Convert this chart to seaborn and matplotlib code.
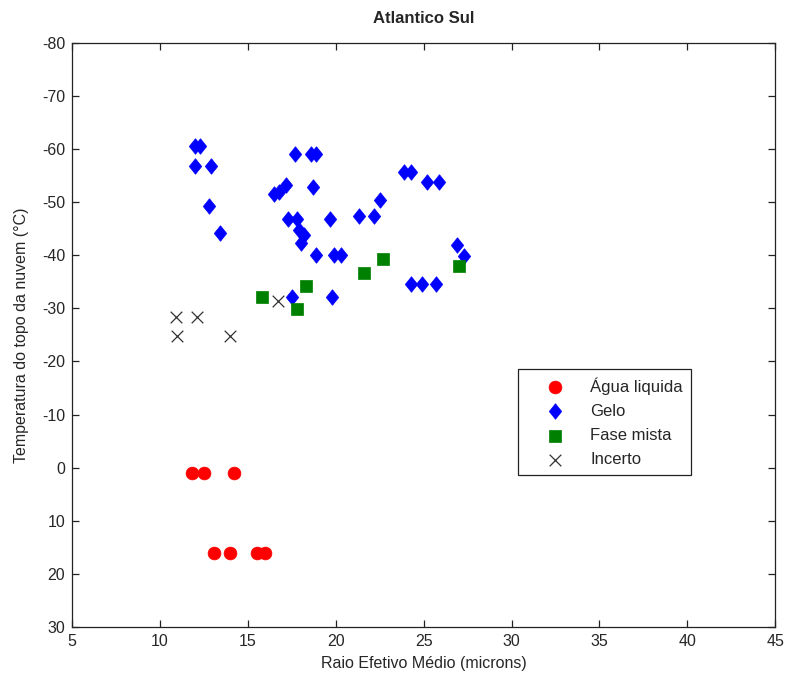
import numpy as np
import pandas as pd
import matplotlib
matplotlib.use("Agg")
import matplotlib.pyplot as plt
import seaborn as sns

# Effective radius (microns) and cloud-top temperature (°C) per phase class
agua_raio = [11.8, 12.5, 14.2, 13.1, 14.0, 15.5, 16.0]
agua_temp = [1.0, 1.0, 1.0, 16.0, 16.0, 16.0, 16.0]

gelo_raio = [12.0, 12.3, 12.0, 12.9, 12.8, 13.4, 17.7, 18.6, 18.9, 17.2,
             16.5, 16.8, 18.7, 22.5, 21.3, 22.2, 17.3, 17.8, 19.7, 17.9,
             18.2, 18.0, 18.9, 19.9, 20.3, 19.8, 17.5, 23.9, 24.3, 25.2,
             25.9, 26.9, 27.3, 24.3, 24.9, 25.7]
gelo_temp = [-60.6, -60.6, -56.8, -56.8, -49.3, -44.1, -59.1, -59.1, -59.1, -53.3,
             -51.6, -51.8, -52.9, -50.4, -47.4, -47.4, -46.8, -46.8, -46.8, -44.7,
             -43.8, -42.2, -40.0, -40.0, -40.0, -32.1, -32.2, -55.7, -55.7, -53.8,
             -53.8, -41.9, -39.8, -34.6, -34.6, -34.6]

mista_raio = [15.8, 18.3, 17.8, 21.6, 22.7, 27.0]
mista_temp = [-32.2, -34.2, -29.8, -36.7, -39.3, -38.0]

incerto_raio = [10.9, 12.1, 11.0, 14.0, 16.7]
incerto_temp = [-28.4, -28.4, -24.8, -24.8, -31.4]

x_ticks = list(range(5, 50, 5))
y_ticks = list(range(-80, 40, 10))

sns.set_style("white")
plt.rcParams["font.family"] = ["Liberation Sans", "DejaVu Sans"]
plt.rcParams["font.size"] = 11.5

fig = plt.figure(figsize=(7.87, 6.79), dpi=100)
ax = fig.add_axes([0.0915, 0.0766, 0.8935, 0.8605])

# MATLAB-like diamond, a little taller than wide
diamond = [(0, 1), (0.8, 0), (0, -1), (-0.8, 0), (0, 1)]

sns.scatterplot(x=agua_raio, y=agua_temp, ax=ax, marker="o", s=85,
                color="#ff0000", edgecolor="#ff0000", linewidth=0.5,
                label="Água liquida")
sns.scatterplot(x=gelo_raio, y=gelo_temp, ax=ax, marker=diamond, s=125,
                color="#0000ff", edgecolor="#0000ff", linewidth=0.5,
                label="Gelo")
sns.scatterplot(x=mista_raio, y=mista_temp, ax=ax, marker="s", s=85,
                color="#008000", edgecolor="#008000", linewidth=0.5,
                label="Fase mista")
sns.scatterplot(x=incerto_raio, y=incerto_temp, ax=ax, marker="x", s=70,
                color="#333333", linewidth=0.9, label="Incerto")

ax.set_xlim(5, 45)
ax.set_ylim(30, -80)
ax.set_xticks(x_ticks)
ax.set_yticks(y_ticks)
ax.set_xticklabels([str(v) for v in x_ticks])
ax.set_yticklabels([str(v) for v in y_ticks])

for sp in ax.spines.values():
    sp.set_visible(True)
    sp.set_color("#222222")
    sp.set_linewidth(0.9)

ax.tick_params(direction="in", length=5, width=0.9, color="#222222",
               top=True, right=True, left=True, bottom=True,
               labelsize=11.5, pad=5)

ax.set_title("Atlantico Sul", fontsize=12, fontweight="bold", pad=14)
ax.set_xlabel("Raio Efetivo Médio (microns)", fontsize=11.5, labelpad=5)
ax.set_ylabel("Temperatura do topo da nuvem (°C)", fontsize=11.5, labelpad=9)

leg = ax.legend(loc="upper left", bbox_to_anchor=(0.634, 0.442),
                frameon=True, fancybox=False, framealpha=1,
                edgecolor="#222222", fontsize=12, labelspacing=0.55,
                borderpad=0.5, handletextpad=0.35, handlelength=3.5,
                borderaxespad=0)
leg.get_frame().set_linewidth(0.9)

fig.savefig("out.png", dpi=100)
